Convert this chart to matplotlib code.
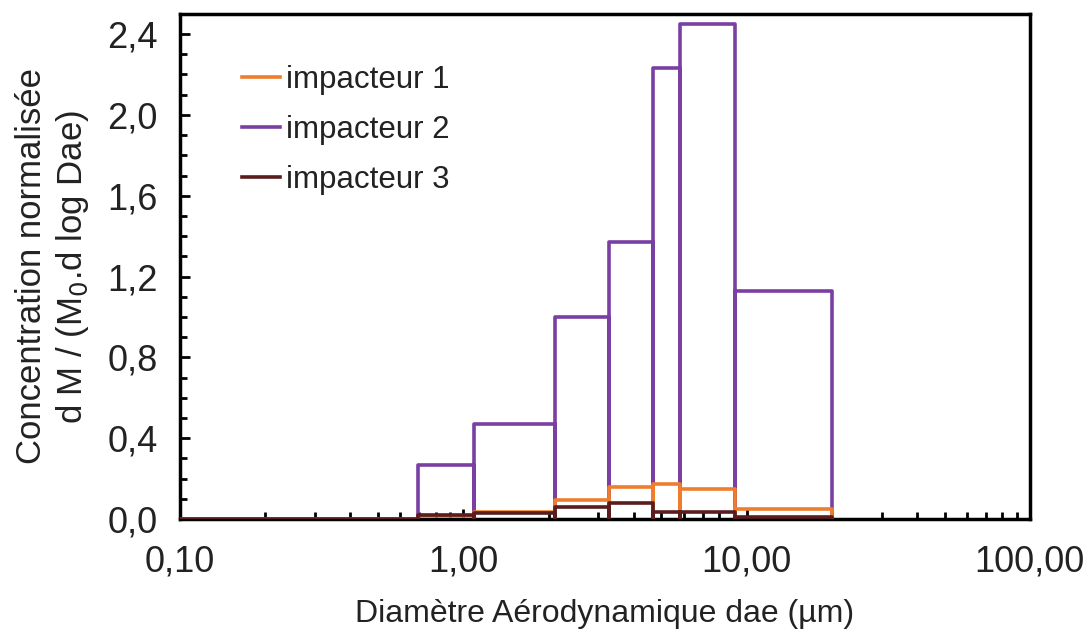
import matplotlib.pyplot as plt
import numpy as np

plt.rcParams['font.family'] = ['Liberation Sans', 'DejaVu Sans']

# bin edges (µm) and normalized concentrations per bin
edges = [0.10, 0.40, 0.69, 1.09, 2.10, 3.28, 4.69, 5.84, 9.07, 20.0]
imp1 = [0.0, 0.003, 0.015, 0.036, 0.094, 0.16, 0.176, 0.15, 0.05]
imp2 = [0.0, 0.0, 0.27, 0.47, 1.00, 1.37, 2.23, 2.45, 1.13]
imp3 = [0.0, 0.003, 0.02, 0.03, 0.058, 0.08, 0.036, 0.036, 0.01]

xticks = [0.1, 1, 10, 100]
xlabels = ["0,10", "1,00", "10,00", "100,00"]
yticks = [0.0, 0.4, 0.8, 1.2, 1.6, 2.0, 2.4]
ylabels = ["0,0", "0,4", "0,8", "1,2", "1,6", "2,0", "2,4"]


def outline(edges, vals, skip_zero=False):
    xs, ys = [], []
    for i, v in enumerate(vals):
        if skip_zero and v == 0:
            continue
        l, r = edges[i], edges[i + 1]
        xs += [l, l, r, r]
        ys += [0, v, v, 0]
    return xs, ys


fig = plt.figure(figsize=(10.84, 6.30), dpi=100)
ax = fig.add_axes([0.166, 0.176, 0.784, 0.802])

x, y = outline(edges, imp2, skip_zero=True)
ax.plot(x, y, color="#7b3fa3", lw=2.6, label="impacteur 2", zorder=2)
x, y = outline(edges, imp1)
ax.plot(x, y, color="#f07d2c", lw=2.6, label="impacteur 1", zorder=3)
x, y = outline(edges, imp3)
ax.plot(x, y, color="#5a1c1c", lw=2.6, label="impacteur 3", zorder=4)

ax.set_xscale("log")
ax.set_xlim(0.1, 100)
ax.set_ylim(0, 2.5)
ax.set_xticks(xticks)
ax.set_xticklabels(xlabels)
ax.set_yticks(yticks)
ax.set_yticklabels(ylabels)
ax.set_yticks(np.arange(0, 2.5, 0.1), minor=True)
ax.tick_params(which="both", direction="in", width=2, labelsize=26,
               labelcolor="#222222")
ax.tick_params(which="major", length=7)
ax.tick_params(which="minor", length=5)
ax.tick_params(axis="x", pad=18)
ax.tick_params(axis="y", pad=16)
for s in ax.spines.values():
    s.set_linewidth(2.5)

ax.set_xlabel("Diamètre Aérodynamique dae (µm)", fontsize=23, labelpad=14, color="#222222")
ax.set_ylabel("Concentration normalisée\nd M / (M$_0$.d log Dae)", fontsize=25,
              labelpad=12, color="#222222", linespacing=1.2)

h, l = ax.get_legend_handles_labels()
order = [1, 0, 2]
ax.legend([h[i] for i in order], [l[i] for i in order], loc="upper left",
          bbox_to_anchor=(0.04, 0.955), frameon=False, fontsize=22.5,
          handlelength=1.2, handletextpad=0.2, labelspacing=0.65,
          labelcolor="#222222")

fig.savefig("out.png", dpi=100)
